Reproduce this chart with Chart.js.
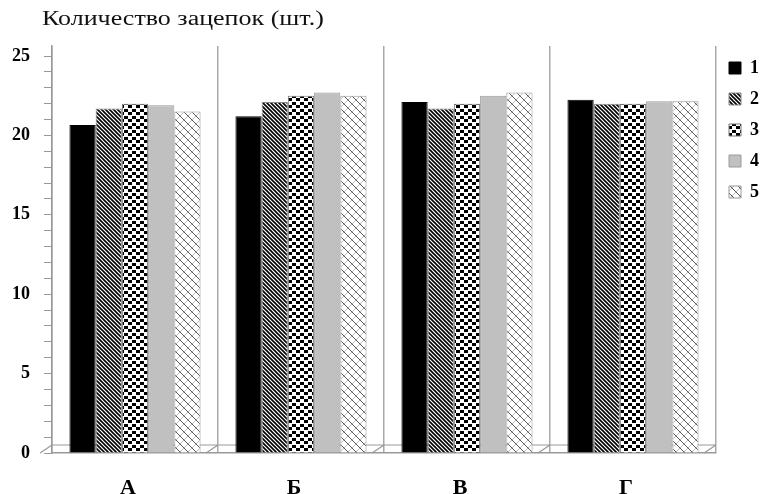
<!DOCTYPE html>
<html><head><meta charset="utf-8">
<script src="https://cdn.jsdelivr.net/npm/chart.js@4.4.1/dist/chart.umd.min.js"></script>
<style>
html,body{margin:0;padding:0;background:#fff;}
#wrap{position:relative;width:769px;height:494px;}
#title{position:absolute;left:42px;top:7px;font:20px "Liberation Serif","Times New Roman",serif;color:#111;white-space:nowrap;transform:scaleX(1.3);transform-origin:0 0;}
canvas{position:absolute;left:0;top:0;}
</style></head><body>
<div id="wrap"><canvas id="c" width="769" height="494"></canvas><div id="title">Количество зацепок (шт.)</div></div>
<script>
const categories = ['А', 'Б', 'В', 'Г'];
const seriesNames = ['1', '2', '3', '4', '5'];
const s1 = [20.65, 21.2, 22.1, 22.25];
const s2 = [21.7, 22.1, 21.7, 22.0];
const s3 = [22.0, 22.5, 22.0, 22.0];
const s4 = [21.9, 22.7, 22.5, 22.15];
const s5 = [21.5, 22.5, 22.7, 22.15];
const yTickLabels = [0, 5, 10, 15, 20, 25];

function tile(w, h, draw) {
  const c = document.createElement('canvas');
  c.width = w; c.height = h;
  const g = c.getContext('2d');
  draw(g, w, h);
  return g.createPattern(c, 'repeat');
}
const pat2 = tile(4, 4, (g, w, h) => {
  g.fillStyle = '#fff'; g.fillRect(0, 0, w, h);
  g.strokeStyle = '#000'; g.lineWidth = 1.6;
  for (let k = -2; k <= 2; k++) { g.beginPath(); g.moveTo(k * 4 - 1, -1); g.lineTo(k * 4 + 5, 5); g.stroke(); }
});
const pat3 = tile(8, 7, (g, w, h) => {
  g.fillStyle = '#fff'; g.fillRect(0, 0, w, h);
  g.fillStyle = '#000';
  g.fillRect(0, 0, 4, 3); g.fillRect(4, 4, 4, 3);
});
const pat5 = tile(8, 8, (g, w, h) => {
  g.fillStyle = '#fff'; g.fillRect(0, 0, w, h);
  g.strokeStyle = '#555'; g.lineWidth = 1;
  for (let k = -1; k <= 1; k++) { g.beginPath(); g.moveTo(k * 8 - 1, -1); g.lineTo(k * 8 + 9, 9); g.stroke(); }
  g.strokeStyle = '#bbb';
  for (let k = -1; k <= 2; k++) { g.beginPath(); g.moveTo(k * 8 + 1, -1); g.lineTo(k * 8 - 9, 9); g.stroke(); }
});
const fills = ['#000000', pat2, pat3, '#c0c0c0', pat5];
const borders = ['#000000', '#888888', '#777777', '#9a9a9a', '#999999'];
const seriesData = [s1, s2, s3, s4, s5];

const serif = '"Liberation Serif","Times New Roman",serif';

const floorPlugin = {
  id: 'floor',
  beforeDatasetsDraw(chart) {
    const { ctx, chartArea: a, scales: { x } } = chart;
    const depth = 8, shift = 12;
    ctx.save();
    ctx.strokeStyle = '#999999';
    ctx.lineWidth = 1.2;
    ctx.beginPath();
    ctx.moveTo(a.left, a.bottom - depth);
    ctx.lineTo(a.right, a.bottom - depth);
    const n = x.ticks.length;
    for (let i = 0; i <= n; i++) {
      const gx = a.left + (a.right - a.left) * i / n;
      ctx.moveTo(gx, a.bottom - depth);
      ctx.lineTo(gx - shift, a.bottom);
    }
    ctx.stroke();
    ctx.restore();
  }
};

new Chart(document.getElementById('c'), {
  type: 'bar',
  data: {
    labels: categories,
    datasets: seriesNames.map((n, i) => ({
      label: n,
      data: seriesData[i],
      backgroundColor: fills[i],
      borderColor: borders[i],
      borderWidth: 1,
      categoryPercentage: 0.79,
      barPercentage: 1.0
    }))
  },
  plugins: [floorPlugin],
  options: {
    responsive: false,
    animation: false,
    devicePixelRatio: 1,
    layout: { padding: { top: 46, right: 0, bottom: 0, left: 0 } },
    plugins: {
      title: { display: false },
      tooltip: { enabled: false },
      legend: {
        position: 'right',
        align: 'start',
        labels: {
          boxWidth: 12, boxHeight: 12, padding: 13,
          color: '#000',
          font: { family: serif, size: 18, weight: 'bold' }
        }
      }
    },
    scales: {
      x: {
        afterFit: (s) => { s.height = 41; },
        grid: { offset: true, color: '#aaaaaa', lineWidth: 1.5, drawTicks: false },
        border: { display: true, color: '#999999', width: 1.5 },
        ticks: {
          color: '#000', padding: 22, labelOffset: -7,
          font: { family: serif, size: 22, weight: 'bold' }
        }
      },
      y: {
        min: 0, max: 25.63,
        afterFit: (s) => { s.width = 52; },
        ticks: {
          stepSize: 1, autoSkip: false, includeBounds: false, color: '#000', padding: 14,
          callback: (v) => yTickLabels.includes(Math.round(v)) && Math.abs(v - Math.round(v)) < 1e-6 ? String(Math.round(v)) : '',
          font: { family: serif, size: 18, weight: 'bold' }
        },
        grid: { drawOnChartArea: false, tickLength: 8, color: '#999999' },
        border: { display: true, color: '#999999', width: 1.5 }
      }
    }
  }
});
</script>
</body></html>
